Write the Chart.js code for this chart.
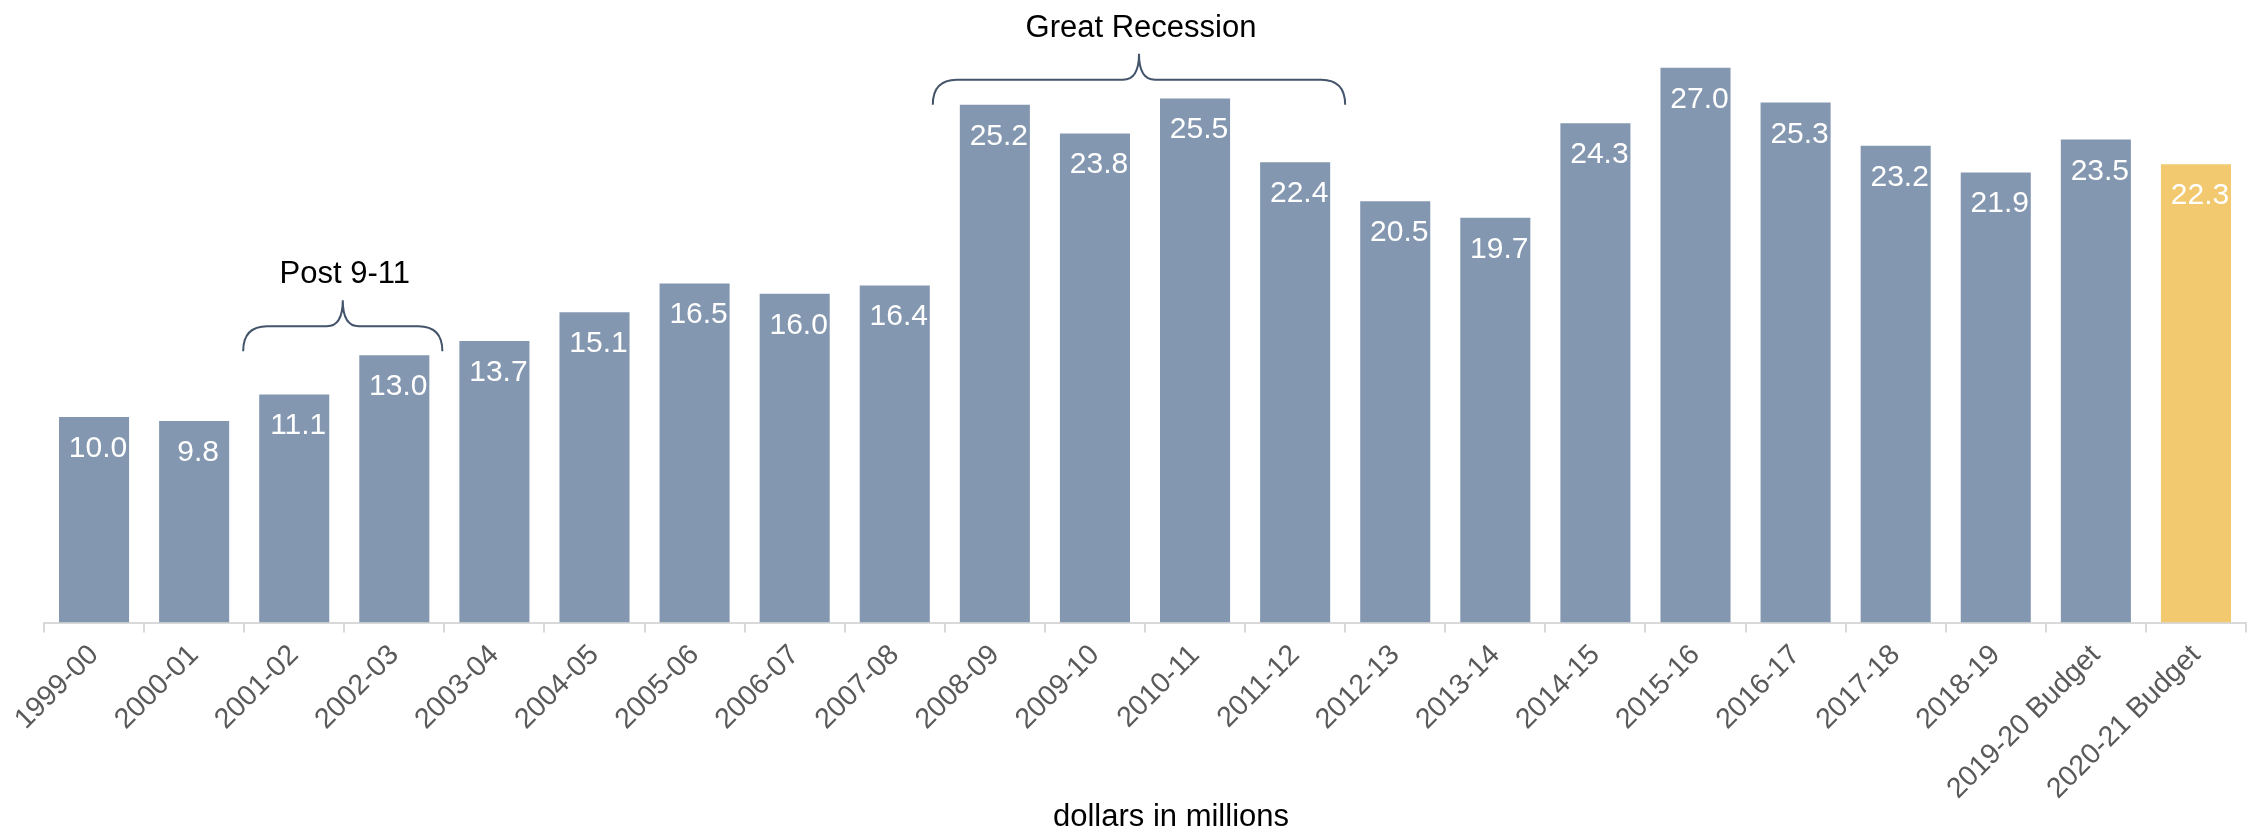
<!DOCTYPE html>
<html>
<head>
<meta charset="utf-8">
<script src="https://cdn.jsdelivr.net/npm/chart.js@4/dist/chart.umd.min.js"></script>
<style>
  html, body { margin: 0; padding: 0; background: #ffffff; }
  #wrap { width: 2254px; height: 833px; }
</style>
</head>
<body>
<div id="wrap"><canvas id="c" width="2254" height="833"></canvas></div>
<script>
const categories = ['1999-00','2000-01','2001-02','2002-03','2003-04','2004-05','2005-06','2006-07','2007-08','2008-09','2009-10','2010-11','2011-12','2012-13','2013-14','2014-15','2015-16','2016-17','2017-18','2018-19','2019-20 Budget','2020-21 Budget'];
const values = [10.0, 9.8, 11.1, 13.0, 13.7, 15.1, 16.5, 16.0, 16.4, 25.2, 23.8, 25.5, 22.4, 20.5, 19.7, 24.3, 27.0, 25.3, 23.2, 21.9, 23.5, 22.3];
const axisTitle = 'dollars in millions';
const annotLabels = ['Post 9-11', 'Great Recession'];
const annotFrom = [1.49, 8.38];
const annotTo = [3.48, 12.5];
const annotLevel = [13.2, 25.2];

const BAR = '#8497B0';
const HILITE = '#F2C96F';
const FONT = '"Liberation Sans", Arial, sans-serif';

const overlay = {
  id: 'overlay',
  afterDatasetsDraw(chart) {
    const ctx = chart.ctx;
    const meta = chart.getDatasetMeta(0);
    const xs = chart.scales.x, ys = chart.scales.y;
    ctx.save();
    // value labels
    ctx.fillStyle = '#ffffff';
    ctx.font = '30px ' + FONT;
    ctx.textAlign = 'center';
    ctx.textBaseline = 'alphabetic';
    meta.data.forEach((bar, i) => {
      ctx.fillText(values[i].toFixed(1), bar.x + 4, bar.y + 40);
    });
    // braces
    ctx.strokeStyle = '#44546A';
    ctx.lineWidth = 2;
    annotLabels.forEach((lab, i) => {
      const x1 = xs.getPixelForValue(annotFrom[i]);
      const x2 = xs.getPixelForValue(annotTo[i]);
      const yEnd = ys.getPixelForValue(annotLevel[i]);
      const yMid = yEnd - 25;
      const yCusp = yEnd - 51;
      const xc = (x1 + x2) / 2;
      const r = 24, cw = 16;
      ctx.beginPath();
      ctx.moveTo(x1, yEnd);
      ctx.quadraticCurveTo(x1, yMid, x1 + r, yMid);
      ctx.lineTo(xc - cw, yMid);
      ctx.quadraticCurveTo(xc, yMid, xc, yCusp);
      ctx.quadraticCurveTo(xc, yMid, xc + cw, yMid);
      ctx.lineTo(x2 - r, yMid);
      ctx.quadraticCurveTo(x2, yMid, x2, yEnd);
      ctx.stroke();
      ctx.fillStyle = '#000000';
      ctx.font = '31px ' + FONT;
      ctx.textAlign = 'center';
      ctx.fillText(lab, xc + 2, yEnd - 68);
    });
    // axis title
    ctx.fillStyle = '#000000';
    ctx.font = '31px ' + FONT;
    ctx.textAlign = 'center';
    ctx.fillText(axisTitle, 1171, 826);
    ctx.restore();
  }
};

new Chart(document.getElementById('c'), {
  type: 'bar',
  data: {
    labels: categories,
    datasets: [{
      data: values,
      backgroundColor: values.map((v, i) => i === values.length - 1 ? HILITE : BAR),
      barPercentage: 0.7,
      categoryPercentage: 1.0
    }]
  },
  options: {
    responsive: false,
    devicePixelRatio: 1,
    animation: false,
    layout: { padding: { left: 44, right: 8, top: 6, bottom: 0 } },
    plugins: { legend: { display: false }, tooltip: { enabled: false } },
    scales: {
      x: {
        offset: true,
        grid: { display: true, drawOnChartArea: false, drawTicks: true, tickLength: 10, color: '#d9d9d9', lineWidth: 2, offset: true },
        border: { display: true, color: '#d9d9d9', width: 2 },
        ticks: { autoSkip: false, minRotation: 45, maxRotation: 45, color: '#595959', font: { family: FONT, size: 28.5 }, padding: 6 },
        afterFit(scale) { scale.height = 210.5; }
      },
      y: { display: false, min: 0, max: 30 }
    }
  },
  plugins: [overlay]
});
</script>
</body>
</html>
